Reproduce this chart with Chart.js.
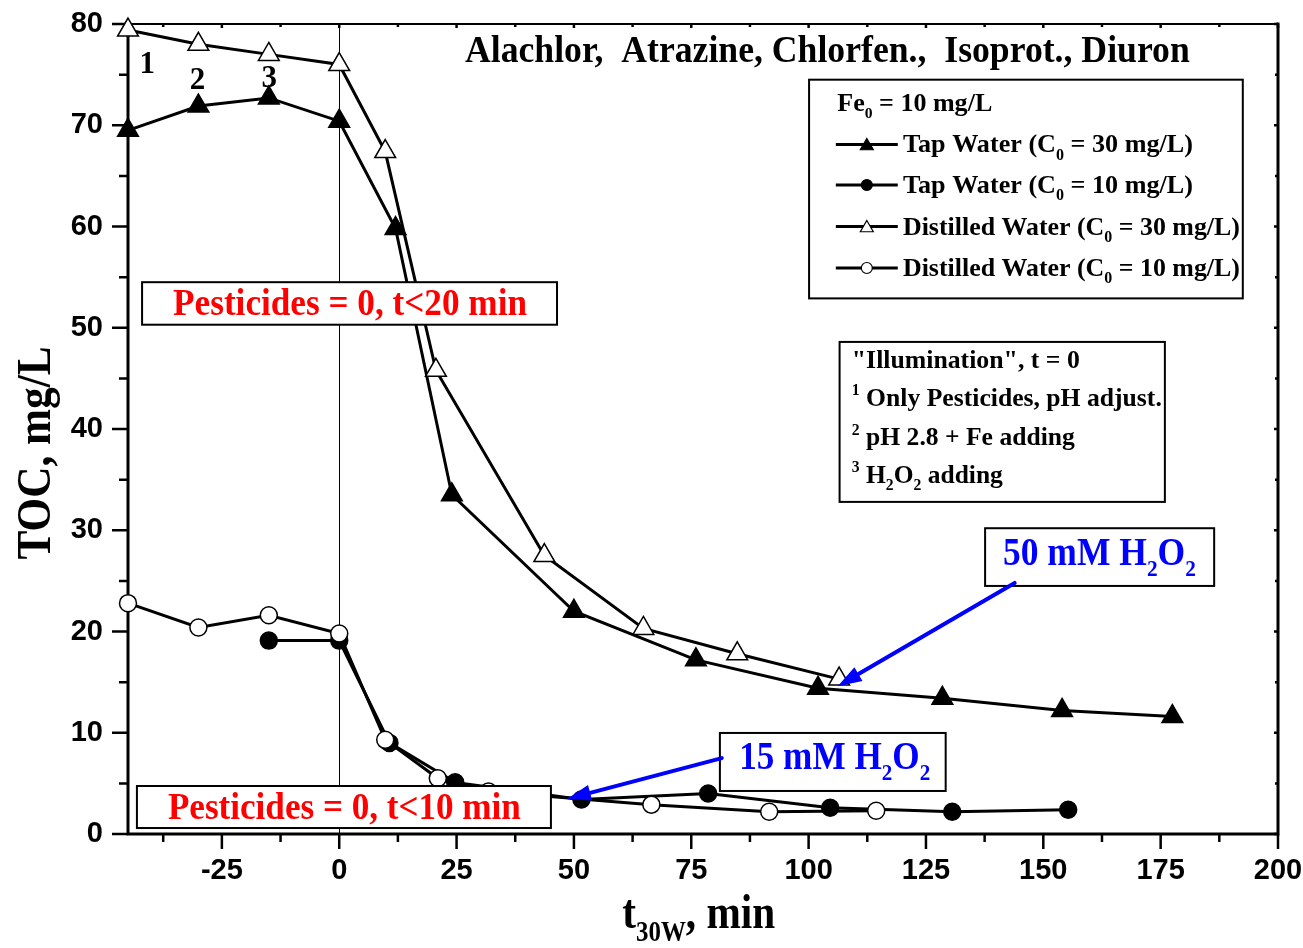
<!DOCTYPE html>
<html>
<head>
<meta charset="utf-8">
<script src="https://cdn.jsdelivr.net/npm/chart.js@4.4.1/dist/chart.umd.min.js"></script>
<style>
  html, body { margin: 0; padding: 0; background: #fff; }
  #wrap { width: 1303px; height: 948px; position: relative; }
</style>
</head>
<body>
<div id="wrap"><canvas id="toc"></canvas></div>
<script>
// TOC removal during the photo-Fenton run (time in min, TOC in mg/L)
const tapHigh_t   = [-45, -30, -15, 0, 12, 24, 50, 76, 102, 128.5, 154, 177.5];
const tapHigh_toc = [69.5, 71.9, 72.7, 70.4, 59.8, 33.5, 22.0, 17.2, 14.4, 13.4, 12.2, 11.6];

const tapLow_t    = [-15, 0, 10.7, 24.7, 51.6, 78.6, 104.6, 130.6, 155.3];
const tapLow_toc  = [19.1, 19.1, 9.0, 5.1, 3.4, 4.0, 2.6, 2.2, 2.4];

const distHigh_t   = [-45, -30, -15, 0, 9.8, 20.6, 43.7, 64.8, 84.8, 106.5];
const distHigh_toc = [79.4, 78.0, 77.0, 76.0, 67.4, 45.8, 27.5, 20.3, 17.8, 15.3];

const distLow_t    = [-45, -30, -15, 0, 9.8, 21.0, 31.8, 66.5, 91.6, 114.4];
const distLow_toc  = [22.8, 20.4, 21.6, 19.8, 9.3, 5.5, 4.2, 2.9, 2.2, 2.3];

const xTickValues = [-25, 0, 25, 50, 75, 100, 125, 150, 175, 200];
const yTickValues = [0, 10, 20, 30, 40, 50, 60, 70, 80];
const xMinorValues = [-37.5, -12.5, 12.5, 37.5, 62.5, 87.5, 112.5, 137.5, 162.5, 187.5];
const yMinorValues = [5, 15, 25, 35, 45, 55, 65, 75];

const seriesNames = [
  ['Tap Water (C', ['0', 'sub'], ' = 30 mg/L)'],
  ['Tap Water (C', ['0', 'sub'], ' = 10 mg/L)'],
  ['Distilled Water (C', ['0', 'sub'], ' = 30 mg/L)'],
  ['Distilled Water (C', ['0', 'sub'], ' = 10 mg/L)']
];

const SERIF = "'Liberation Serif', 'Times New Roman', serif";
const TICK_FONT = "'Liberation Sans Narrow', 'Arial Narrow', 'Liberation Sans', Arial, sans-serif";

function pts(xs, ys) { return xs.map((v, i) => ({ x: v, y: ys[i] })); }

// bold serif text with sub/superscript pieces, optionally squeezed to a given width
function segFont(kind, size) { return `bold ${kind ? Math.round(size * 0.6) : size}px ${SERIF}`; }
function segShift(kind, size) { return kind === 'sub' ? size * 0.28 : kind === 'sup' ? -size * 0.4 : 0; }
function drawRich(ctx, parts, x, y, size, opt = {}) {
  const segs = parts.map(p => typeof p === 'string' ? [p, null] : p);
  let w = 0;
  for (const [t, k] of segs) { ctx.font = segFont(k, size); w += ctx.measureText(t).width; }
  const sx = opt.width ? opt.width / w : 1;
  const dw = w * sx;
  const x0 = opt.align === 'center' ? x - dw / 2 : opt.align === 'right' ? x - dw : x;
  ctx.save();
  ctx.translate(x0, y);
  ctx.scale(sx, 1);
  ctx.fillStyle = opt.color || '#000';
  ctx.textAlign = 'left';
  ctx.textBaseline = 'alphabetic';
  let cx = 0;
  for (const [t, k] of segs) {
    ctx.font = segFont(k, size);
    ctx.fillText(t, cx, segShift(k, size));
    cx += ctx.measureText(t).width;
  }
  ctx.restore();
}

const series = [
  { label: 'tapHigh',  data: pts(tapHigh_t, tapHigh_toc),   style: 'triangle', fill: '#000', r: 12, order: 4 },
  { label: 'tapLow',   data: pts(tapLow_t, tapLow_toc),     style: 'circle',   fill: '#000', r: 8.5, order: 3 },
  { label: 'distHigh', data: pts(distHigh_t, distHigh_toc), style: 'triangle', fill: '#fff', r: 12, order: 2 },
  { label: 'distLow',  data: pts(distLow_t, distLow_toc),   style: 'circle',   fill: '#fff', r: 8.5, order: 1 }
];

// overlay layout, in axis units (minutes, mg/L)
const layoutNotes = {
  title: { x0: 26.8, x1: 181.2, y: 76.2, size: 38 },
  steps: [ { t: '1', x: -40.9, y: 75.2 }, { t: '2', x: -30.2, y: 73.6 }, { t: '3', x: -14.9, y: 73.8 } ],
  legend: { x0: 100.1, x1: 192.5, y0: 74.5, y1: 52.9, headX: 106.1, headY: 71.4,
            lineX0: 105.8, lineX1: 119.0, markX: 112.4, textX: 120.1,
            rowsY: [68.1, 64.1, 60.0, 55.9], textW: [290, 290, 337, 337] },
  info: { x0: 106.6, x1: 175.9, y0: 48.6, y1: 32.8, textX: 109.2, rowsY: [46.0, 42.3, 38.4, 34.7], textW: [228, 310, 223, 151] },
  red: [
    { x0: -42.0, x1: 46.4, y0: 54.5, y1: 50.3, tx0: -35.4, tx1: 40.0, ty: 51.3, text: 'Pesticides = 0, t<20 min' },
    { x0: -43.1, x1: 45.1, y0: 4.74, y1: 0.59, tx0: -36.5, tx1: 38.7, ty: 1.45, text: 'Pesticides = 0, t<10 min' }
  ],
  blue: [
    { x0: 137.6, x1: 186.4, y0: 30.2, y1: 24.5, tx0: 141.4, tx1: 182.5, ty: 26.6, conc: '50',
      ax0: 143.9, ay0: 24.8, ax1: 106.2, ay1: 14.6 },
    { x0: 81.1, x1: 129.2, y0: 9.98, y1: 4.25, tx0: 85.2, tx1: 125.9, ty: 6.4, conc: '15',
      ax0: 81.5, ay0: 7.5, ax1: 48.5, ay1: 3.46 }
  ]
};

const frame = {
  id: 'frame',
  beforeDatasetsDraw(chart) {
    const { ctx, chartArea: a, scales: { x, y } } = chart;
    ctx.save();
    // reference line at illumination start
    ctx.strokeStyle = '#000';
    ctx.lineWidth = 1;
    const x0 = Math.round(x.getPixelForValue(0)) + 0.5;
    ctx.beginPath(); ctx.moveTo(x0, a.top); ctx.lineTo(x0, a.bottom); ctx.stroke();
    // axis frame
    ctx.lineCap = 'square';
    ctx.lineWidth = 2;
    ctx.beginPath(); ctx.moveTo(a.left, a.top); ctx.lineTo(a.right, a.top); ctx.stroke();
    ctx.lineWidth = 3;
    ctx.beginPath();
    ctx.moveTo(a.left, a.top); ctx.lineTo(a.left, a.bottom); ctx.lineTo(a.right, a.bottom); ctx.lineTo(a.right, a.top);
    ctx.stroke();
    ctx.lineCap = 'butt';
    ctx.lineWidth = 2.5;
    ctx.beginPath();
    for (const v of xTickValues) { const p = x.getPixelForValue(v); ctx.moveTo(p, a.bottom); ctx.lineTo(p, a.bottom + 15); ctx.moveTo(p, a.top); ctx.lineTo(p, a.top + 4); }
    for (const v of xMinorValues) { const p = x.getPixelForValue(v); ctx.moveTo(p, a.bottom); ctx.lineTo(p, a.bottom + 8); ctx.moveTo(p, a.top); ctx.lineTo(p, a.top + 3); }
    for (const v of yTickValues) { const p = y.getPixelForValue(v); ctx.moveTo(a.left, p); ctx.lineTo(a.left - 16, p); ctx.moveTo(a.right, p); ctx.lineTo(a.right - 4, p); }
    for (const v of yMinorValues) { const p = y.getPixelForValue(v); ctx.moveTo(a.left, p); ctx.lineTo(a.left - 9, p); ctx.moveTo(a.right, p); ctx.lineTo(a.right - 3, p); }
    ctx.stroke();
    ctx.restore();
  },
  afterDatasetsDraw(chart) {
    const { ctx, scales: { x, y } } = chart;
    const X = v => x.getPixelForValue(v), Y = v => y.getPixelForValue(v);
    const L = layoutNotes;
    const box = (x0, y0, x1, y1, lw) => {
      ctx.save();
      ctx.fillStyle = '#fff';
      ctx.fillRect(X(x0), Y(y0), X(x1) - X(x0), Y(y1) - Y(y0));
      ctx.strokeStyle = '#000';
      ctx.lineWidth = lw;
      ctx.strokeRect(X(x0), Y(y0), X(x1) - X(x0), Y(y1) - Y(y0));
      ctx.restore();
    };

    // compound list
    drawRich(ctx, ['Alachlor,  Atrazine, Chlorfen.,  Isoprot., Diuron'], X(L.title.x0), Y(L.title.y), L.title.size,
      { width: X(L.title.x1) - X(L.title.x0) });
    for (const s of L.steps) drawRich(ctx, [s.t], X(s.x), Y(s.y), 31, { align: 'center' });

    // legend
    const g = L.legend;
    box(g.x0, g.y0, g.x1, g.y1, 2);
    drawRich(ctx, ['Fe', ['0', 'sub'], ' = 10 mg/L'], X(g.headX), Y(g.headY), 25, { width: 155 });
    series.forEach((s, i) => {
      const py = Y(g.rowsY[i]);
      ctx.save();
      ctx.strokeStyle = '#000';
      ctx.lineWidth = 3;
      ctx.beginPath(); ctx.moveTo(X(g.lineX0), py); ctx.lineTo(X(g.lineX1), py); ctx.stroke();
      ctx.fillStyle = s.fill;
      ctx.lineWidth = 1.2;
      Chart.helpers.drawPoint(ctx, { pointStyle: s.style, radius: s.style === 'triangle' ? 7.5 : 5.5, borderWidth: 1.2, rotation: 0 },
        X(g.markX), py + (s.style === 'triangle' ? 1.5 : 0));
      ctx.restore();
      drawRich(ctx, seriesNames[i], X(g.textX), py + 8, 26, { width: g.textW[i] });
    });

    // sequence of additions
    const n = L.info;
    box(n.x0, n.y0, n.x1, n.y1, 2);
    const infoRows = [
      ['"Illumination", t = 0'],
      [['1', 'sup'], ' Only Pesticides, pH adjust.'],
      [['2', 'sup'], ' pH 2.8 + Fe adding'],
      [['3', 'sup'], ' H', ['2', 'sub'], 'O', ['2', 'sub'], ' adding']
    ];
    infoRows.forEach((r, i) => drawRich(ctx, r, X(n.textX), Y(n.rowsY[i]), 26, { width: n.textW[i] }));

    // pesticide-free windows
    for (const b of L.red) {
      box(b.x0, b.y0, b.x1, b.y1, 2);
      drawRich(ctx, [b.text], X(b.tx0), Y(b.ty), 37, { width: X(b.tx1) - X(b.tx0), color: '#ff0000' });
    }

    // peroxide doses with pointers
    for (const b of L.blue) {
      box(b.x0, b.y0, b.x1, b.y1, 2);
      drawRich(ctx, [b.conc + ' mM H', ['2', 'sub'], 'O', ['2', 'sub']], X(b.tx0), Y(b.ty), 40,
        { width: X(b.tx1) - X(b.tx0), color: '#0000ff' });
      const sx = X(b.ax0), sy = Y(b.ay0), ex = X(b.ax1), ey = Y(b.ay1);
      const ang = Math.atan2(ey - sy, ex - sx);
      const head = 24, half = 8;
      const bx = ex - head * Math.cos(ang), by = ey - head * Math.sin(ang);
      ctx.save();
      ctx.strokeStyle = '#0000ff';
      ctx.fillStyle = '#0000ff';
      ctx.lineWidth = 4;
      ctx.lineCap = 'round';
      ctx.beginPath(); ctx.moveTo(sx, sy); ctx.lineTo(bx, by); ctx.stroke();
      ctx.beginPath();
      ctx.moveTo(ex, ey);
      ctx.lineTo(bx + half * Math.sin(ang), by - half * Math.cos(ang));
      ctx.lineTo(bx - half * Math.sin(ang), by + half * Math.cos(ang));
      ctx.closePath(); ctx.fill();
      ctx.restore();
    }

    // axis titles
    const a = chart.chartArea;
    drawRich(ctx, ['t', ['30W', 'sub'], ', min'], X(76.6), 928, 48, { width: 153, align: 'center' });
    ctx.save();
    ctx.translate(50, (a.top + a.bottom) / 2 + 24);
    ctx.rotate(-Math.PI / 2);
    drawRich(ctx, ['TOC, mg/L'], 0, 0, 48, { width: 213, align: 'center' });
    ctx.restore();
  }
};

new Chart(document.getElementById('toc'), {
  type: 'line',
  data: {
    datasets: series.map(s => ({
      label: s.label,
      data: s.data,
      order: s.order,
      borderColor: '#000',
      borderWidth: 3,
      tension: 0,
      fill: false,
      clip: false,
      pointStyle: s.style,
      pointRadius: s.r,
      pointHoverRadius: s.r,
      pointBackgroundColor: s.fill,
      pointBorderColor: '#000',
      pointBorderWidth: 1.5
    }))
  },
  options: {
    responsive: true,
    maintainAspectRatio: false,
    animation: false,
    events: [],
    layout: { padding: { top: 24, right: 25, left: 0, bottom: 0 } },
    plugins: { legend: { display: false }, tooltip: { enabled: false } },
    scales: {
      x: {
        type: 'linear',
        min: -45,
        max: 200,
        afterBuildTicks: ax => { ax.ticks = xTickValues.map(v => ({ value: v })); },
        afterFit: ax => { ax.height = 114; ax.paddingLeft = 0; ax.paddingRight = 0; },
        grid: { display: false, drawTicks: false },
        border: { display: false },
        ticks: { color: '#000', padding: 20, maxRotation: 0, autoSkip: false,
                 font: { family: TICK_FONT, size: 29, weight: 'bold' } }
      },
      y: {
        type: 'linear',
        min: 0,
        max: 80,
        afterBuildTicks: ax => { ax.ticks = yTickValues.map(v => ({ value: v })); },
        afterFit: ax => { ax.width = 128; ax.paddingTop = 0; ax.paddingBottom = 0; },
        grid: { display: false, drawTicks: false },
        border: { display: false },
        ticks: { color: '#000', padding: 25, autoSkip: false,
                 font: { family: TICK_FONT, size: 29, weight: 'bold' } }
      }
    }
  },
  plugins: [frame]
});
</script>
</body>
</html>
